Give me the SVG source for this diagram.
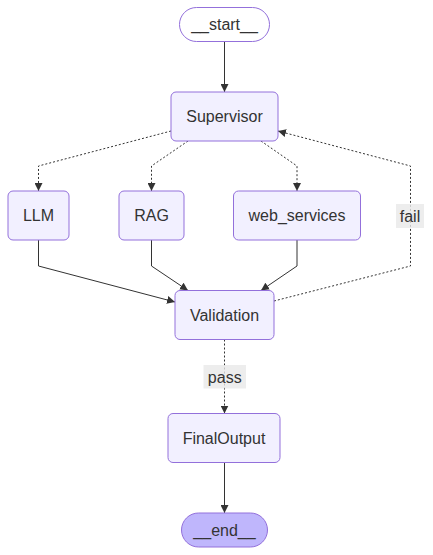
<svg xmlns="http://www.w3.org/2000/svg" width="433" height="555" viewBox="0 0 433 555">
<style>
.node rect{fill:#f2f0ff;stroke:#9370db;stroke-width:1}
.node.start rect{fill:#ffffff}
.node.end rect{fill:#bfb6fc}
text{font-family:"Liberation Sans",Arial,sans-serif;font-size:16px;fill:#333333;text-anchor:middle;dominant-baseline:central}
.edge{fill:none;stroke:#333333;stroke-width:1}
.dotted{stroke-dasharray:2 2}
.lbl{fill:#e8e8e8;fill-opacity:0.8}
</style>
<defs>
<marker id="arrow" viewBox="0 0 10 10" refX="10" refY="5" markerWidth="8" markerHeight="8" markerUnits="userSpaceOnUse" orient="auto">
<path d="M0,0 L10,5 L0,10 z" fill="#333333"/>
</marker>
</defs>
<rect width="433" height="555" fill="#ffffff"/>
<g id="connectors">
<path class="edge" d="M224.5,42 L224.5,92" marker-end="url(#arrow)"/>
<path class="edge dotted" d="M171,131 L38.5,166 L38.5,191" marker-end="url(#arrow)"/>
<path class="edge dotted" d="M188,141 L151.5,166 L151.5,191" marker-end="url(#arrow)"/>
<path class="edge dotted" d="M261,141 L297,166 L297,191" marker-end="url(#arrow)"/>
<path class="edge dotted" d="M274,301 L410.5,266 L410.5,166 L278,131" marker-end="url(#arrow)"/>
<path class="edge" d="M38.5,240 L38.5,266 L175,302" marker-end="url(#arrow)"/>
<path class="edge" d="M151.5,240 L151.5,266 L188,290.5" marker-end="url(#arrow)"/>
<path class="edge" d="M297,240 L297,266 L261,290.5" marker-end="url(#arrow)"/>
<path class="edge dotted" d="M224.5,339.5 L224.5,413.5" marker-end="url(#arrow)"/>
<path class="edge" d="M224.5,462.5 L224.5,513" marker-end="url(#arrow)"/>
<g id="label-fail"><rect class="lbl" x="396" y="204" width="28" height="24"/><text x="410" y="216">fail</text></g>
<g id="label-pass"><rect class="lbl" x="203.5" y="365" width="42.5" height="23.5"/><text x="224.75" y="377">pass</text></g>
</g>
<g id="node-start" class="node start"><rect x="179.5" y="7.5" width="90" height="34" rx="17" ry="17"/><text x="224.5" y="24.5">__start__</text></g>
<g id="node-supervisor" class="node"><rect x="171" y="92" width="107" height="49" rx="5" ry="5"/><text x="224.5" y="116.5">Supervisor</text></g>
<g id="node-llm" class="node"><rect x="8" y="191" width="61" height="49" rx="5" ry="5"/><text x="38.5" y="215.5">LLM</text></g>
<g id="node-rag" class="node"><rect x="119" y="191" width="65" height="49" rx="5" ry="5"/><text x="151.5" y="215.5">RAG</text></g>
<g id="node-web_services" class="node"><rect x="233.5" y="191" width="127" height="49" rx="5" ry="5"/><text x="297" y="215.5">web_services</text></g>
<g id="node-validation" class="node"><rect x="175" y="290.5" width="99" height="49" rx="5" ry="5"/><text x="224.5" y="315">Validation</text></g>
<g id="node-finaloutput" class="node"><rect x="168" y="413.5" width="112" height="49" rx="5" ry="5"/><text x="224" y="438">FinalOutput</text></g>
<g id="node-end" class="node end"><rect x="181.5" y="513" width="86" height="34" rx="17" ry="17"/><text x="224.5" y="530">__end__</text></g>
</svg>
